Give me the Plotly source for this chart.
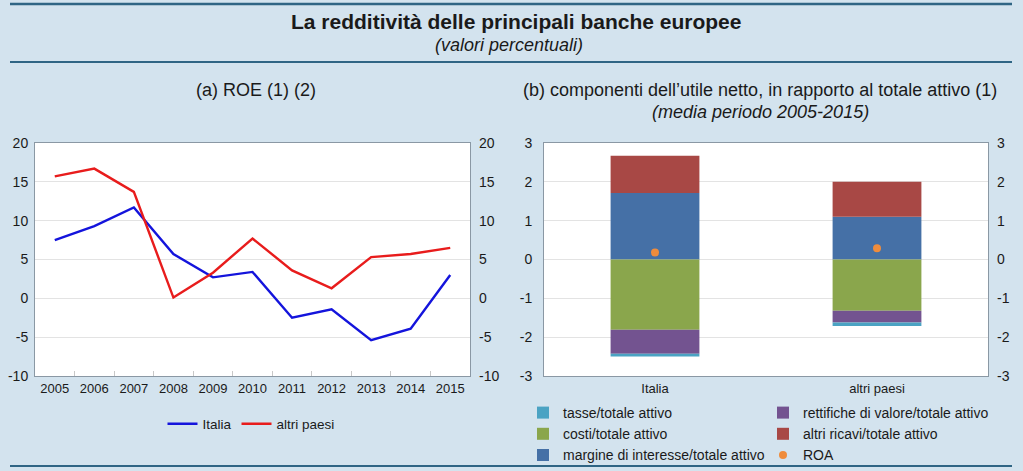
import plotly.graph_objects as go

W, H = 1023, 471

# ---------------- data ----------------
years = ["2005", "2006", "2007", "2008", "2009", "2010", "2011", "2012", "2013", "2014", "2015"]
roe_italia = [7.5, 9.3, 11.7, 5.7, 2.7, 3.4, -2.5, -1.4, -5.4, -3.9, 3.0]
roe_altri = [15.7, 16.7, 13.7, 0.1, 3.3, 7.7, 3.6, 1.3, 5.3, 5.7, 6.5]

paesi = ["Italia", "altri paesi"]
margine = [1.71, 1.10]
altri_ricavi = [0.96, 0.90]
costi = [-1.81, -1.32]
rettifiche = [-0.62, -0.30]
tasse = [-0.07, -0.09]
roa = [0.18, 0.29]

left_ticks = [-10, -5, 0, 5, 10, 15, 20]
left_ticktext = ["-10", "-5", "0", "5", "10", "15", "20"]
right_ticks = [-3, -2, -1, 0, 1, 2, 3]
right_ticktext = ["-3", "-2", "-1", "0", "1", "2", "3"]

# ---------------- style ----------------
BG = "#d3e3ee"
LINE_DARK = "#2f6584"
FONT = "Liberation Sans, Arial, sans-serif"
TXT = "#1a1a1a"
GRID = "#e3e3e3"
FRAME = "#8a98a4"

C_TASSE = "#4ba3c3"
C_RETT = "#735390"
C_COSTI = "#8aa64c"
C_RICAVI = "#a84845"
C_MARG = "#4570a6"
C_ROA = "#ef8c3c"


def px_x(x):
    return x / W


def px_y(y):
    return (H - y) / H


fig = go.Figure()

# ---- left panel: ROE lines ----
fig.add_trace(go.Scatter(x=years, y=roe_italia, mode="lines", name="Italia",
                         line=dict(color="#1414dc", width=2.4),
                         xaxis="x", yaxis="y", legend="legend"))
fig.add_trace(go.Scatter(x=years, y=roe_altri, mode="lines", name="altri paesi",
                         line=dict(color="#e81c1c", width=2.4),
                         xaxis="x", yaxis="y", legend="legend"))
# helper trace so the right-hand axis is drawn
fig.add_trace(go.Scatter(x=years, y=roe_italia, mode="lines", showlegend=False,
                         hoverinfo="skip", line=dict(color="rgba(0,0,0,0)"),
                         xaxis="x", yaxis="y3"))

# ---- right panel: stacked components ----
bar_specs = [
    ("margine di interesse/totale attivo", margine, C_MARG, "legend2", 3),
    ("altri ricavi/totale attivo", altri_ricavi, C_RICAVI, "legend3", 2),
    ("costi/totale attivo", costi, C_COSTI, "legend2", 2),
    ("rettifiche di valore/totale attivo", rettifiche, C_RETT, "legend3", 1),
    ("tasse/totale attivo", tasse, C_TASSE, "legend2", 1),
]
for name, vals, col, lg, rank in bar_specs:
    fig.add_trace(go.Bar(x=paesi, y=vals, name=name, marker=dict(color=col, line=dict(width=0)),
                         xaxis="x2", yaxis="y2", legend=lg, legendrank=rank,
                         legendgroup=name))
fig.add_trace(go.Scatter(x=paesi, y=roa, mode="markers", name="ROA",
                         marker=dict(color=C_ROA, size=8),
                         xaxis="x2", yaxis="y2", legend="legend3", legendrank=3,
                         legendgroup="ROA"))
fig.add_trace(go.Scatter(x=paesi, y=roa, mode="markers", showlegend=False,
                         hoverinfo="skip", marker=dict(color="rgba(0,0,0,0)"),
                         xaxis="x2", yaxis="y4"))

# ---------------- axes ----------------
xtickfont = dict(family=FONT, size=13, color=TXT)
ytickfont = dict(family=FONT, size=14, color=TXT)
ydom = [px_y(376), px_y(143)]

common_x = dict(showline=True, linecolor=FRAME, linewidth=1, mirror=True,
                tickfont=xtickfont, showgrid=False, automargin=False)
common_y = dict(showgrid=False, zeroline=False, tickfont=ytickfont, ticks="",
                automargin=False)

fig.update_layout(
    xaxis=dict(domain=[px_x(35), px_x(470)], anchor="y", type="category",
               range=[-0.5, len(years) - 0.5],
               tickson="boundaries", ticks="inside", ticklen=5, tickcolor="#c8c8c8",
               **common_x),
    yaxis=dict(domain=ydom, anchor="x", range=[-10, 20], tickvals=left_ticks,
               ticktext=left_ticktext, gridcolor=GRID,
               showline=True, linecolor=FRAME, mirror=True, ticklabelstandoff=3,
               **{**common_y, "showgrid": True}),
    yaxis3=dict(overlaying="y", side="right", anchor="x", range=[-10, 20],
                tickvals=left_ticks, ticktext=left_ticktext, ticklabelstandoff=8,
                **common_y),
    xaxis2=dict(domain=[px_x(544), px_x(988)], anchor="y2", type="category",
                ticks="", **common_x),
    yaxis2=dict(domain=ydom, anchor="x2", range=[-3, 3], tickvals=right_ticks,
                ticktext=right_ticktext, gridcolor=GRID,
                showline=True, linecolor=FRAME, mirror=True, ticklabelstandoff=8,
                **{**common_y, "showgrid": True}),
    yaxis4=dict(overlaying="y2", side="right", anchor="x2", range=[-3, 3],
                tickvals=right_ticks, ticktext=right_ticktext, ticklabelstandoff=8,
                **common_y),
    barmode="relative",
    bargap=0.6,
)

# ---------------- legends ----------------
legfont = dict(family=FONT, size=14, color=TXT)
fig.update_layout(
    legend=dict(orientation="h", x=px_x(251), y=px_y(424), xanchor="center", yanchor="middle",
                bgcolor="rgba(0,0,0,0)", font=dict(family=FONT, size=13.5, color=TXT),
                itemwidth=30),
    legend2=dict(orientation="v", x=px_x(523), y=px_y(397), xanchor="left", yanchor="top",
                 bgcolor="rgba(0,0,0,0)", font=legfont, tracegroupgap=0, itemwidth=30),
    legend3=dict(orientation="v", x=px_x(763), y=px_y(397), xanchor="left", yanchor="top",
                 bgcolor="rgba(0,0,0,0)", font=legfont, tracegroupgap=0, itemwidth=30),
)

# ---------------- titles ----------------
ann = [
    dict(text="<b>La redditività delle principali banche europee</b>", x=px_x(516), y=px_y(22),
         font=dict(family=FONT, size=21, color=TXT)),
    dict(text="<i>(valori percentuali)</i>", x=px_x(509), y=px_y(45),
         font=dict(family=FONT, size=18, color=TXT)),
    dict(text="(a) ROE (1) (2)", x=px_x(256), y=px_y(90),
         font=dict(family=FONT, size=18, color=TXT)),
    dict(text="(b) componenti dell’utile netto, in rapporto al totale attivo (1)", x=px_x(760), y=px_y(90),
         font=dict(family=FONT, size=18, color=TXT)),
    dict(text="<i>(media periodo 2005-2015)</i>", x=px_x(760), y=px_y(112),
         font=dict(family=FONT, size=18, color=TXT)),
]
for a in ann:
    a.update(xref="paper", yref="paper", showarrow=False, xanchor="center", yanchor="middle")
fig.update_layout(annotations=ann)

shapes = []
for yy, w in [(4, 2.5), (62, 2), (466, 2)]:
    shapes.append(dict(type="line", xref="paper", yref="paper", x0=px_x(10), x1=px_x(1012),
                       y0=px_y(yy), y1=px_y(yy), line=dict(color=LINE_DARK, width=w)))
fig.update_layout(shapes=shapes)

fig.update_layout(
    width=W, height=H,
    margin=dict(l=0, r=0, t=0, b=0, pad=0, autoexpand=False),
    paper_bgcolor=BG, plot_bgcolor="white",
    font=dict(family=FONT, color=TXT),
)

fig.write_html(
    "out.html",
    config={"displayModeBar": False},
    post_script="document.body.style.margin='0';document.body.style.overflow='hidden';",
)
